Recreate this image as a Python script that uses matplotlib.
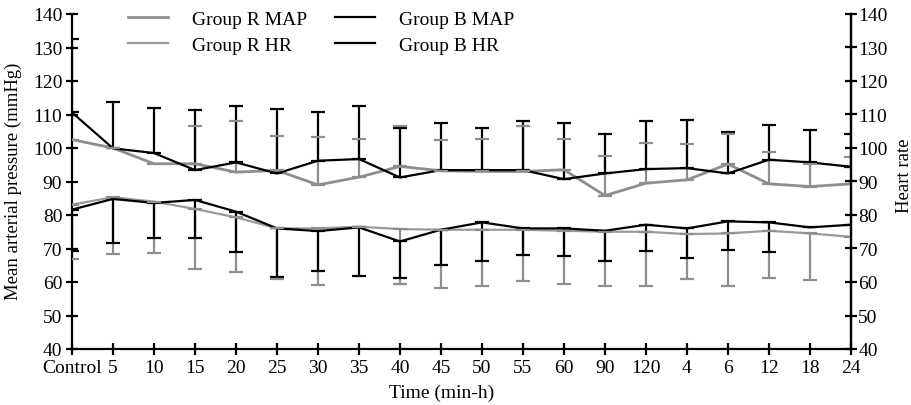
import numpy as np
import matplotlib
matplotlib.use("Agg")
import matplotlib.pyplot as plt

plt.rcParams['font.family'] = ['Liberation Serif', 'DejaVu Serif']

time_labels = ["Control", "5", "10", "15", "20", "25", "30", "35", "40", "45",
               "50", "55", "60", "90", "120", "4", "6", "12", "18", "24"]

# Group R MAP (gray, upper) mean and upward SD
r_map = [102.5, 100.0, 95.3, 95.3, 92.8, 93.3, 89.0, 91.3, 94.5, 93.2,
         93.0, 93.0, 93.5, 85.8, 89.5, 90.5, 95.2, 89.3, 88.5, 89.3]
r_map_sd = [np.nan, np.nan, np.nan, 11.4, 15.2, 10.4, 14.4, 11.4, 12.0, 9.3,
            9.7, 13.5, 9.2, 11.7, 12.0, 10.6, 9.0, 9.4, 6.7, 7.9]

# Group B MAP (black, upper)
b_map = [110.6, 99.9, 98.5, 93.4, 95.7, 92.4, 96.2, 96.7, 91.2, 93.4,
         93.4, 93.4, 90.7, 92.4, 93.7, 94.0, 92.4, 96.5, 95.7, 94.4]
b_map_sd = [21.9, 13.7, 13.4, 17.9, 16.9, 19.2, 14.6, 15.9, 14.8, 14.0,
            12.5, 14.8, 16.7, 11.8, 14.5, 14.5, 12.4, 10.4, 9.8, 9.8]

# Group R HR (gray, lower) mean and downward SD
r_hr = [83.1, 85.3, 84.0, 81.8, 79.3, 76.0, 76.0, 76.5, 75.8, 75.6,
        75.6, 75.6, 75.3, 75.0, 75.0, 74.3, 74.5, 75.3, 74.5, 73.5]
r_hr_sd = [16.2, 16.9, 15.3, 17.8, 16.4, 15.1, 16.8, np.nan, 16.4, 17.4,
           16.7, 15.2, 15.9, 16.1, 16.1, 13.4, 15.6, 14.2, 13.9, np.nan]

# Group B HR (black, lower)
b_hr = [81.6, 84.8, 83.6, 84.5, 81.0, 76.0, 75.2, 76.3, 72.1, 75.6,
        77.8, 76.0, 76.0, 75.3, 77.1, 76.0, 78.1, 77.8, 76.3, 77.1]
b_hr_sd = [12.4, 13.3, 10.5, 11.4, 12.0, 14.6, 12.0, 14.6, 11.0, 10.5,
           11.4, 7.8, 8.1, 9.1, 7.7, 8.8, 8.5, 8.9, np.nan, np.nan]

y_ticks = [40, 50, 60, 70, 80, 90, 100, 110, 120, 130, 140]

GRAY = '#8e8e8e'
GRAY2 = '#9a9a9a'
BLACK = '#000000'
FS = 14
FS_Y = 13.5

fig = plt.figure(figsize=(9.12, 4.06), dpi=100)
ax = fig.add_axes([72/912, 1-350/406, 779/912, 335/406])

x = np.arange(len(time_labels))
zeros = np.zeros(len(x))

cap = 4.7
ecap = 1.6

# black error bars
for m, sd, up in [(b_map, b_map_sd, True), (b_hr, b_hr_sd, False)]:
    yerr = [zeros, np.array(sd)] if up else [np.array(sd), zeros]
    ax.errorbar(x, m, yerr=yerr, fmt='none', ecolor=BLACK, elinewidth=1.6,
                capsize=cap, capthick=ecap, zorder=3)

# gray error bars
for m, sd, up in [(r_map, r_map_sd, True), (r_hr, r_hr_sd, False)]:
    yerr = [zeros, np.array(sd)] if up else [np.array(sd), zeros]
    eb = ax.errorbar(x, m, yerr=yerr, fmt='none', ecolor=GRAY, elinewidth=1.6,
                     capsize=cap, capthick=ecap, zorder=2)
    for c in eb[1]:
        c.set_zorder(4)

l1, = ax.plot(x, r_map, color=GRAY, lw=2.0, zorder=3.5, label='Group R MAP')
l2, = ax.plot(x, r_hr, color=GRAY2, lw=1.6, zorder=3.5, label='Group R HR')
l3, = ax.plot(x, b_map, color=BLACK, lw=1.6, zorder=3.6, label='Group B MAP')
l4, = ax.plot(x, b_hr, color=BLACK, lw=1.6, zorder=3.6, label='Group B HR')

ax.set_xlim(0, len(x)-1)
ax.set_ylim(40, 140)
ax.set_xticks(x)
ax.set_xticklabels(time_labels)
ax.set_yticks(y_ticks)

ax.spines['top'].set_visible(False)
for s in ['left', 'right', 'bottom']:
    ax.spines[s].set_linewidth(1.6)
ax.tick_params(axis='both', direction='inout', length=9, width=1.6,
               labelsize=FS, pad=2.5)

ax2 = ax.twinx()
ax2.set_ylim(40, 140)
ax2.set_yticks(y_ticks)
ax2.spines['top'].set_visible(False)
ax2.spines['left'].set_visible(False)
ax2.spines['bottom'].set_visible(False)
ax2.spines['right'].set_linewidth(1.6)
ax2.tick_params(axis='y', direction='inout', length=9, width=1.6,
                labelsize=FS, pad=0.8)

ax.set_xlabel('Time (min-h)', fontsize=FS)
ax.xaxis.set_label_coords(0.474, -0.105)
ax.set_ylabel('Mean arterial pressure (mmHg)', fontsize=FS_Y)
ax.yaxis.set_label_coords(-0.064, 0.505)
ax2.set_ylabel('Heart rate', fontsize=FS_Y, rotation=90)
ax2.yaxis.set_label_coords(1.058, 0.52)

fig.legend(handles=[l1, l2, l3, l4], loc='upper left',
           bbox_to_anchor=(128/912, 1-11/406), ncol=2, frameon=False,
           fontsize=FS, handlelength=2.06, handletextpad=1.23,
           columnspacing=1.43, labelspacing=0.45, borderpad=0,
           borderaxespad=0)

fig.savefig('out.png', dpi=100)
